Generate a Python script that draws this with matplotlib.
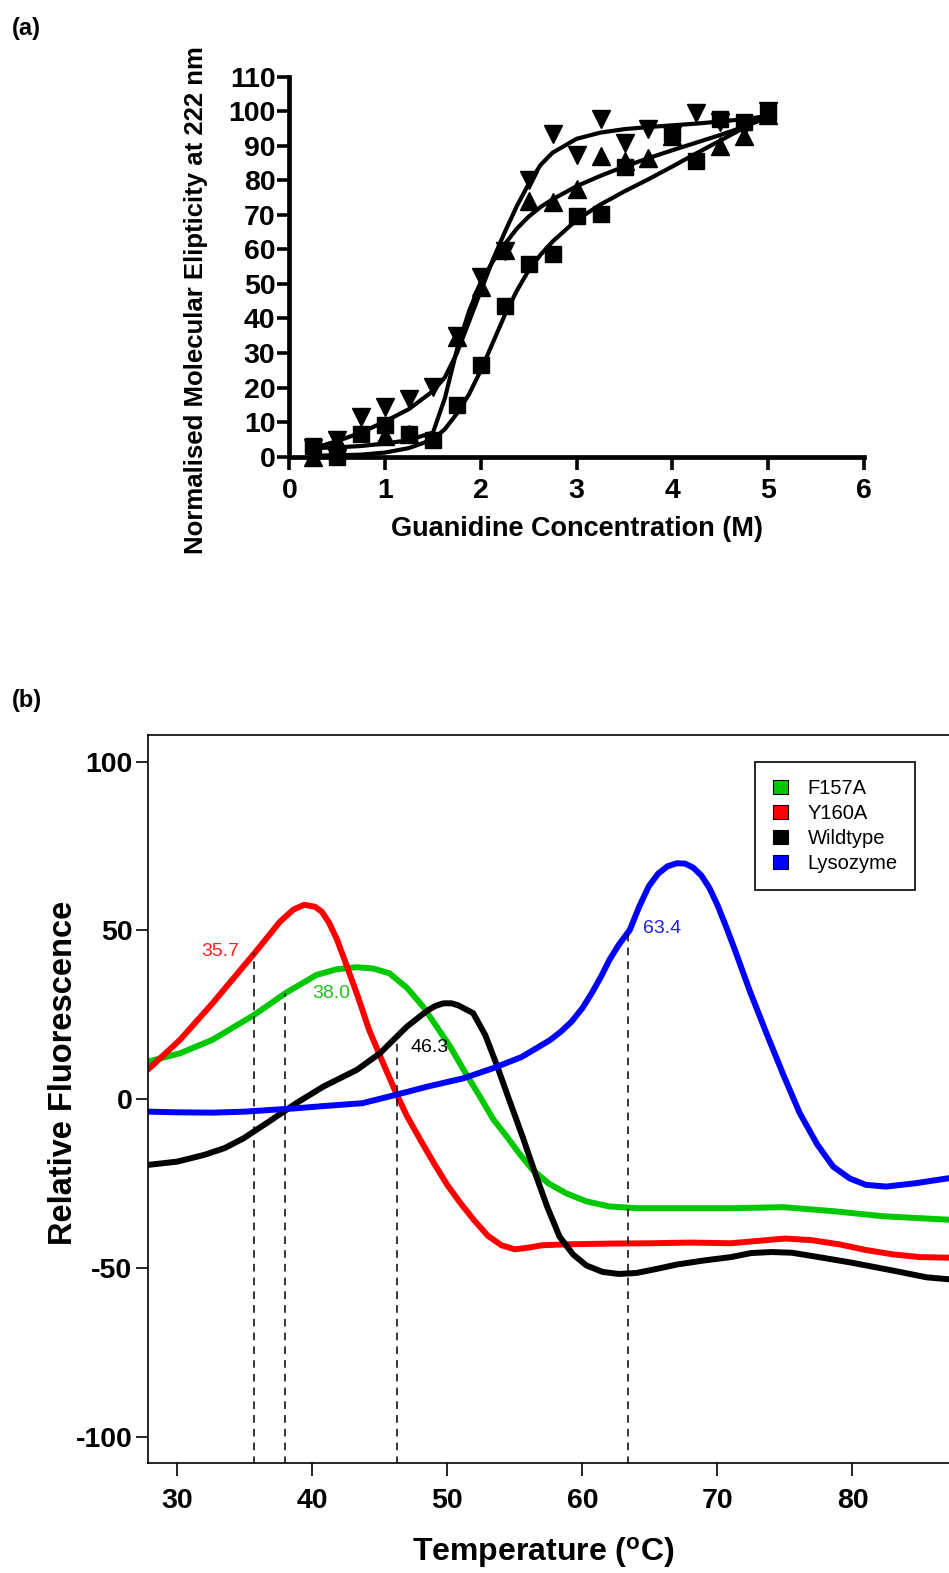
import matplotlib
matplotlib.use('Agg')
import matplotlib.pyplot as plt
from matplotlib.patches import Patch

plt.rcParams['font.family'] = ['Liberation Sans', 'DejaVu Sans']
plt.rcParams['mathtext.fontset'] = 'custom'
plt.rcParams['mathtext.rm'] = 'Liberation Sans'
plt.rcParams['mathtext.bf'] = 'Liberation Sans:bold'
plt.rcParams['axes.unicode_minus'] = False

# ---- panel (a): guanidine denaturation ----
sq_x = [0.25, 0.5, 0.75, 1.0, 1.25, 1.5, 1.75, 2.0, 2.25, 2.5, 2.75, 3.0, 3.25, 3.5, 4.0, 4.25, 4.5, 4.75, 5.0]
sq_y = [3.0, 0.0, 6.5, 9.3, 6.5, 4.8, 14.9, 26.4, 43.5, 55.8, 58.8, 69.8, 70.3, 83.8, 93.8, 85.7, 97.8, 97.0, 99.5]

up_x = [0.25, 0.5, 1.0, 1.25, 1.75, 2.0, 2.25, 2.5, 2.75, 3.0, 3.25, 3.5, 3.75, 4.0, 4.5, 4.75, 5.0]
up_y = [0.0, 4.5, 6.0, 6.5, 34.6, 49.0, 59.8, 74.0, 73.6, 77.4, 87.0, 85.6, 86.5, 92.8, 89.9, 92.8, 99.0]

down_x = [0.25, 0.5, 0.75, 1.0, 1.25, 1.5, 1.75, 2.0, 2.25, 2.5, 2.75, 3.0, 3.25, 3.5, 3.75, 4.0, 4.25, 4.5, 4.75, 5.0]
down_y = [2.4, 4.8, 11.5, 14.5, 16.8, 20.2, 35.0, 52.0, 59.5, 80.0, 93.5, 87.4, 97.6, 90.8, 94.8, 93.0, 99.5, 97.0, 95.0, 100.0]

fit_x = [0.25, 0.5, 0.75, 1.0, 1.25, 1.5, 1.625, 1.75, 1.875, 2.0, 2.125, 2.25, 2.375, 2.5,
         2.625, 2.75, 3.0, 3.25, 3.5, 3.75, 4.0, 4.25, 4.5, 4.75, 5.0]
sq_fit = [0.3, 0.4, 0.6, 1.2, 2.5, 5.0, 8.0, 12.5, 18.0, 25.0, 33.0, 41.0, 48.0, 54.0,
          58.5, 62.3, 68.5, 73.0, 76.8, 80.3, 84.0, 87.8, 91.5, 95.2, 99.5]
up_fit = [2.5, 2.7, 3.1, 3.8, 4.8, 7.0, 17.0, 31.0, 42.0, 50.5, 56.5, 61.5, 66.0, 69.5,
          72.3, 74.5, 78.3, 81.3, 84.0, 86.4, 88.7, 90.9, 93.1, 95.5, 98.3]
down_fit = [2.5, 4.5, 7.0, 10.2, 13.8, 19.0, 23.0, 30.0, 39.0, 48.0, 57.0, 65.0, 72.5, 79.0,
            84.5, 88.0, 92.0, 93.8, 94.8, 95.4, 95.9, 96.4, 97.0, 97.7, 98.6]

# ---- panel (b): thermal shift curves ----
red_t = [27.8, 30.2, 32.6, 35.7, 37.6, 38.6, 39.4, 40.2, 40.7, 41.2, 41.8, 42.5, 43.4, 44.2, 45.2,
         46.2, 47.0, 48.0, 49.0, 50.0, 51.0, 52.0, 53.0, 54.0, 55.0, 56.0, 57.0, 59.0, 62.0, 65.0,
         68.0, 71.0, 73.0, 75.0, 77.0, 79.0, 81.0, 83.0, 85.0, 87.5]
red_f = [8.7, 17.6, 28.4, 43.2, 52.6, 56.2, 57.6, 57.0, 55.5, 52.5, 47.5, 40.0, 30.0, 20.5, 11.0,
         1.8, -5.0, -12.1, -19.0, -25.5, -31.0, -36.0, -40.5, -43.3, -44.5, -44.0, -43.3, -43.0,
         -42.8, -42.7, -42.5, -42.7, -42.0, -41.3, -41.8, -43.0, -44.7, -46.0, -46.8, -47.0]

green_t = [27.8, 30.2, 32.6, 35.7, 38.0, 40.3, 41.8, 43.3, 44.5, 45.7, 47.0, 48.2, 49.2, 50.2, 51.3,
           52.4, 53.4, 54.4, 55.3, 56.3, 57.5, 58.8, 60.3, 62.0, 64.0, 66.2, 69.0, 71.2, 74.9,
           78.6, 82.3, 87.5]
green_f = [11.1, 13.6, 17.6, 25.0, 31.4, 36.8, 38.5, 39.1, 38.7, 37.3, 33.0, 27.4, 21.5, 15.6, 8.0,
           0.8, -6.0, -11.1, -16.0, -20.9, -25.0, -27.9, -30.3, -31.8, -32.3, -32.3, -32.3, -32.3,
           -32.0, -33.2, -34.7, -35.8]

black_t = [27.8, 30.0, 32.0, 33.5, 34.9, 36.8, 38.8, 40.8, 43.3, 45.0, 47.0, 48.5, 49.1, 49.7, 50.3,
           50.8, 51.9, 52.8, 53.6, 54.6, 55.6, 56.5, 57.4, 58.3, 59.3, 60.3, 61.5, 62.7, 64.0, 65.5,
           67.0, 69.0, 71.0, 72.5, 74.0, 75.5, 77.5, 80.0, 83.0, 85.5, 87.5]
black_f = [-19.5, -18.5, -16.5, -14.5, -11.6, -6.6, -1.2, 3.7, 8.7, 13.6, 21.5, 26.2, 27.6, 28.4, 28.4,
           27.8, 25.5, 19.0, 10.7, -0.5, -11.5, -22.0, -32.0, -40.7, -46.0, -49.3, -51.2, -51.8,
           -51.5, -50.3, -49.0, -47.8, -46.8, -45.6, -45.3, -45.5, -46.8, -48.5, -50.8, -52.8, -53.5]

blue_t = [27.8, 30.0, 32.6, 35.0, 38.8, 41.0, 43.7, 46.2, 48.5, 51.2, 53.4, 55.5, 57.6, 58.4, 59.2,
          60.0, 60.7, 61.4, 62.0, 62.7, 63.5, 64.2, 64.9, 65.6, 66.3, 67.0, 67.6, 68.2, 68.8, 69.4,
          70.0, 70.6, 71.2, 72.4, 73.63, 74.9, 76.1, 77.4, 78.57, 79.8, 81.0, 82.5, 84.7, 87.5]
blue_f = [-3.7, -3.9, -4.0, -3.7, -2.7, -2.0, -1.2, 1.3, 3.7, 6.2, 9.2, 12.5, 17.5, 20.0, 23.0,
          27.0, 31.5, 36.5, 41.3, 45.8, 50.1, 57.0, 63.0, 66.8, 69.0, 69.9, 69.8, 68.6, 66.3, 62.6,
          57.5, 51.5, 45.2, 32.0, 19.5, 7.0, -4.2, -13.5, -20.0, -23.5, -25.4, -25.9, -24.9, -23.2]

series_names = ['F157A', 'Y160A', 'Wildtype', 'Lysozyme']
series_colors = ['#00c800', '#ff0000', '#000000', '#0000ff']

tm_values = [35.7, 38.0, 46.3, 63.4]
tm_tops = [43.2, 31.4, 18.0, 49.5]
tm_colors = ['#ff2020', '#20c020', '#000000', '#2020e0']
tm_label_x = [33.2, 41.4, 48.7, 65.9]
tm_label_y = [43.7, 31.2, 15.2, 50.5]

W, H = 949, 1573
fig = plt.figure(figsize=(W / 100, H / 100), dpi=100)

# panel (a)
ax1 = fig.add_axes([289.3 / W, 1 - 456.7 / H, (864 - 289.3) / W, (456.7 - 76.6) / H])
for fy in [sq_fit, up_fit, down_fit]:
    ax1.plot(fit_x, fy, color='black', lw=3.0, clip_on=False, solid_joinstyle='round')
ax1.plot(sq_x, sq_y, 's', color='black', ms=12, clip_on=False)
ax1.plot(up_x, up_y, '^', color='black', ms=13, clip_on=False)
ax1.plot(down_x, down_y, 'v', color='black', ms=13, clip_on=False)
ax1.set_xlim(0, 6)
ax1.set_ylim(0, 110)
ax1.set_xticks(range(0, 7))
ax1.set_yticks(range(0, 111, 10))
for s in ['top', 'right']:
    ax1.spines[s].set_visible(False)
for s in ['left', 'bottom']:
    ax1.spines[s].set_linewidth(3.4)
ax1.tick_params(direction='out', length=9, width=2.6, labelsize=20.5)
ax1.tick_params(axis='x', pad=6)
ax1.tick_params(axis='y', pad=1)
for lab in ax1.get_xticklabels() + ax1.get_yticklabels():
    lab.set_fontweight('bold')
ax1.set_xlabel('Guanidine Concentration (M)', fontsize=19.5, fontweight='bold', labelpad=9)
fig.text(196 / W, 1 - 300 / H, 'Normalised Molecular Elipticity at 222 nm', rotation=90,
         ha='center', va='center', fontsize=18.5, fontweight='bold')
fig.text(12 / W, 1 - 28 / H, '(a)', ha='left', va='center', fontsize=17, fontweight='bold')

# panel (b)
ax2 = fig.add_axes([147.7 / W, 1 - 1463.3 / H, (974 - 147.7) / W, (1463.3 - 735) / H])
curves = [(green_t, green_f), (red_t, red_f), (black_t, black_f), (blue_t, blue_f)]
for (t, f), c in zip(curves, series_colors):
    ax2.plot(t, f, color=c, lw=4.3, solid_capstyle='round', solid_joinstyle='round')
for x, top in zip(tm_values, tm_tops):
    ax2.plot([x, x], [-108, top], color='black', lw=1.1, ls=(0, (5, 4)))
for x, y, v, c in zip(tm_label_x, tm_label_y, tm_values, tm_colors):
    ax2.text(x, y, f'{v:.1f}', color=c, fontsize=14, ha='center', va='center')
ax2.set_xlim(27.8, 89)
ax2.set_ylim(-107.9, 107.9)
ax2.set_xticks([30, 40, 50, 60, 70, 80])
ax2.set_yticks([-100, -50, 0, 50, 100])
for s in ax2.spines.values():
    s.set_linewidth(1.2)
ax2.tick_params(direction='out', length=9, width=1.2, labelsize=20.5)
ax2.tick_params(axis='x', pad=9)
ax2.tick_params(axis='y', pad=2)
for lab in ax2.get_xticklabels() + ax2.get_yticklabels():
    lab.set_fontweight('bold')
handles = [Patch(facecolor=c, edgecolor='black', lw=0.8) for c in series_colors]
leg = ax2.legend(handles, series_names, loc='upper right', bbox_to_anchor=(0.9286, 0.9629),
                 borderaxespad=0, fontsize=14.5, fancybox=False, edgecolor='black',
                 handlelength=0.75, handleheight=0.65, handletextpad=1.0, labelspacing=0.3,
                 borderpad=0.85, framealpha=1)
leg.get_frame().set_linewidth(1.2)
fig.text(64 / W, 1 - 1073 / H, 'Relative Fluorescence', rotation=90, ha='center', va='center',
         fontsize=23.5, fontweight='bold')
fig.text(543 / W, 1 - 1553 / H, r'Temperature ($\mathbf{^{o}}$C)', ha='center', va='center',
         fontsize=23, fontweight='bold')
fig.text(12 / W, 1 - 700 / H, '(b)', ha='left', va='center', fontsize=17, fontweight='bold')

fig.savefig('out.png', dpi=100)
